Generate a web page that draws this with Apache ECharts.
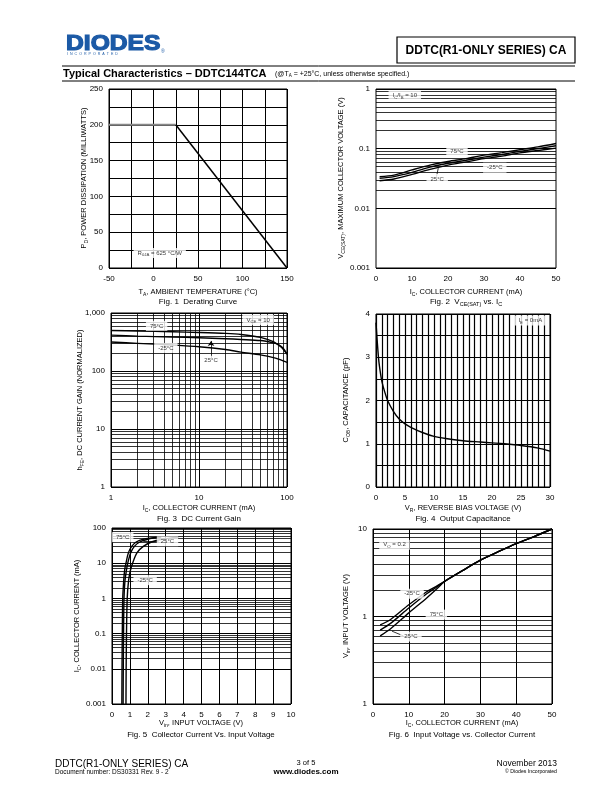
<!DOCTYPE html>
<html><head><meta charset="utf-8">
<script src="https://cdn.jsdelivr.net/npm/echarts@6/dist/echarts.min.js"></script>
<style>html,body{margin:0;padding:0;background:#fff}#c{width:612px;height:792px}</style>
</head><body><div id="c"></div>
<script>
// ---------- Fig.1 Derating curve ----------
const fig1Temp = [-50, 25, 150];
const fig1Pd = [200, 200, 0];
// ---------- Fig.2 VCE(sat) vs IC ----------
const fig2Ic = [1, 5, 10, 15, 20, 25, 30, 35, 40, 45, 50];
const fig2V75 = [0.034, 0.036, 0.044, 0.053, 0.061, 0.068, 0.078, 0.086, 0.096, 0.107, 0.122];
const fig2V25 = [0.032, 0.034, 0.040, 0.049, 0.057, 0.064, 0.072, 0.080, 0.090, 0.100, 0.112];
const fig2Vm25 = [0.029, 0.031, 0.037, 0.045, 0.053, 0.060, 0.068, 0.075, 0.085, 0.093, 0.102];
// ---------- Fig.3 DC current gain ----------
const fig3Ic = [1, 2, 5, 10, 20, 30, 50, 70, 80, 90, 100];
const fig3H75 = [500, 490, 475, 462, 445, 427, 380, 320, 280, 240, 195];
const fig3H25 = [416, 400, 385, 375, 360, 350, 335, 305, 285, 250, 195];
const fig3Hm25 = [316, 300, 280, 262, 235, 212, 190, 170, 160, 150, 141];
// ---------- Fig.4 Output capacitance ----------
const fig4Vr = [0, 0.25, 0.5, 0.75, 1, 1.5, 2, 3, 4, 5, 6, 8, 10, 12, 15, 18, 20, 22, 25, 28, 30];
const fig4C = [3.8, 3.3, 2.9, 2.65, 2.45, 2.2, 2.0, 1.75, 1.57, 1.46, 1.38, 1.26, 1.17, 1.12, 1.07, 1.04, 1.02, 1.0, 0.96, 0.9, 0.83];
// ---------- Fig.5 IC vs Vin ----------
const fig5Ic = [0.001, 0.01, 0.1, 1, 3, 6, 10, 20, 30, 40, 48, 55];
const fig5Vin75 = [0.55, 0.56, 0.575, 0.6, 0.65, 0.7, 0.78, 0.92, 1.1, 1.35, 1.75, 2.6];
const fig5Vin25 = [0.62, 0.63, 0.645, 0.67, 0.72, 0.8, 0.88, 1.05, 1.25, 1.55, 2.0, 2.75];
const fig5Vinm25 = [0.78, 0.79, 0.81, 0.85, 0.92, 1.02, 1.15, 1.4, 1.75, 2.2, 2.8, 3.7];
// ---------- Fig.6 Vin vs IC ----------
const fig6Ic = [2, 5, 10, 15, 18, 20, 25, 30, 35, 40, 45, 50];
const fig6Vm25 = [0.80, 0.93, 1.36, 1.92, 2.25, 2.52, 3.35, 4.4, 5.5, 6.8, 8.2, 10];
const fig6V75 = [0.70, 0.84, 1.25, 1.82, 2.2, 2.52, 3.35, 4.4, 5.5, 6.8, 8.2, 10];
const fig6V25 = [0.60, 0.73, 1.10, 1.63, 2.1, 2.52, 3.35, 4.4, 5.5, 6.8, 8.2, 10];

const F = 'Liberation Sans, Arial, Helvetica, sans-serif';
const zip = (xs, ys) => xs.map((x, i) => [x, ys[i]]);
const zipYX = (ys, xs) => ys.map((y, i) => [xs[i], y]);
function logMinors(e0, e1) { const out = []; for (let e = e0; e < e1; e++) for (let d = 2; d <= 9; d++) out.push(+(d * Math.pow(10, e)).toPrecision(3)); return out; }
const fmtNum = v => { const r = parseFloat((+v).toPrecision(3)); return r >= 1000 ? r.toLocaleString('en-US') : String(r); };

function mkRich(big, small, lh) {
  return {
    n: { fontSize: big, fontFamily: F, color: '#000', lineHeight: lh, verticalAlign: 'middle' },
    s: { fontSize: small, fontFamily: F, color: '#000', lineHeight: small, verticalAlign: 'bottom' }
  };
}
const RICH = mkRich(6, 4.3, 8);
const TRICH = mkRich(7.5, 5, 10);
const CRICH = mkRich(8, 5.5, 11);

const grids = [
  { left: 109, top: 89, width: 178, height: 179 },
  { left: 376, top: 89, width: 180, height: 179 },
  { left: 111, top: 313, width: 176, height: 174 },
  { left: 376, top: 314, width: 174, height: 173 },
  { left: 112, top: 528, width: 179, height: 176 },
  { left: 373, top: 529, width: 179, height: 175 }
].map(g => Object.assign({ show: true, borderColor: '#000', borderWidth: 1, backgroundColor: '#fff' }, g));

const GL = { lineStyle: { color: '#000', width: 1 } };
const LBL = (o) => Object.assign({ color: '#000', fontSize: 8, fontFamily: F, margin: 7 }, o || {});
function ax(gi, o) {
  return Object.assign({
    gridIndex: gi,
    axisLine: { show: false }, axisTick: { show: false },
    splitLine: Object.assign({ show: true }, GL),
    axisLabel: LBL()
  }, o);
}
const xAxes = [
  ax(0, { type: 'value', min: -50, max: 150, interval: 25, axisLabel: LBL({ formatter: v => (v % 50 === 0 ? String(v) : '') }) }),
  ax(1, { type: 'value', min: 0, max: 50, interval: 10, splitLine: { show: false } }),
  ax(2, { type: 'log', min: 1, max: 100, logBase: 10, axisLabel: LBL({ formatter: fmtNum }) }),
  ax(3, { type: 'value', min: 0, max: 30, interval: 1, splitLine: { show: true, lineStyle: { color: '#000', width: 1.2 } }, axisLabel: LBL({ formatter: v => (v % 5 === 0 ? String(v) : '') }) }),
  ax(4, { type: 'value', min: 0, max: 10, interval: 1 }),
  ax(5, { type: 'value', min: 0, max: 50, interval: 10 })
];
const yAxes = [
  ax(0, { type: 'value', min: 0, max: 250, interval: 25, axisLabel: LBL({ margin: 6, formatter: v => (v % 50 === 0 ? String(v) : '') }) }),
  ax(1, { type: 'log', min: 0.001, max: 1, logBase: 10, axisLabel: LBL({ margin: 6, formatter: fmtNum }) }),
  ax(2, { type: 'log', min: 1, max: 1000, logBase: 10, axisLabel: LBL({ margin: 6, formatter: fmtNum }) }),
  ax(3, { type: 'value', min: 0, max: 4, interval: 0.5, splitLine: { show: true, lineStyle: { color: '#000', width: 1.2 } }, axisLabel: LBL({ margin: 6, formatter: v => (Number.isInteger(v) ? String(v) : '') }) }),
  ax(4, { type: 'log', min: 0.001, max: 100, logBase: 10, axisLabel: LBL({ margin: 6, formatter: fmtNum }) }),
  ax(5, { type: 'log', min: 0.1, max: 10, logBase: 10, axisLabel: LBL({ margin: 6, formatter: v => (Math.abs(v - 0.1) < 1e-9 ? '1' : fmtNum(v)) }) })
];

const minorML = (list, key) => ({
  silent: true, symbol: 'none', label: { show: false }, animation: false,
  lineStyle: { color: '#000', width: 0.8, type: 'solid' },
  data: list.map(v => ({ [key]: v }))
});
const curve = (gi, data, extra) => Object.assign({
  type: 'line', xAxisIndex: gi, yAxisIndex: gi, data, showSymbol: false, symbol: 'none',
  smooth: 0.3, lineStyle: { color: '#000', width: 1.4 }, z: 3
}, extra || {});
function labels(gi, items, leaders) {
  return {
    type: 'scatter', xAxisIndex: gi, yAxisIndex: gi, symbolSize: 1, z: 10,
    itemStyle: { color: 'rgba(0,0,0,0)' },
    data: items,
    label: { show: true, position: 'inside', formatter: p => p.data[2], backgroundColor: '#fff', padding: [1, 4], rich: RICH, fontSize: 6, fontFamily: F, color: '#000' },
    markLine: leaders ? {
      silent: true, symbol: ['none', 'none'], label: { show: false },
      lineStyle: { color: '#000', width: 0.8, type: 'solid' },
      data: leaders.map(l => [{ coord: l[0], symbol: 'none' }, { coord: l[1], symbol: l[2] || 'none', symbolSize: 5 }])
    } : undefined
  };
}

const series = [
  curve(0, zip(fig1Temp.slice(0, 2), fig1Pd.slice(0, 2)), { smooth: false, lineStyle: { color: '#888', width: 2 } }),
  curve(0, zip(fig1Temp.slice(1), fig1Pd.slice(1)), { smooth: false, lineStyle: { color: '#000', width: 1.5 } }),
  curve(1, zip(fig2Ic, fig2V75), { markLine: minorML(logMinors(-3, 0), 'yAxis') }),
  curve(1, zip(fig2Ic, fig2V25)),
  curve(1, zip(fig2Ic, fig2Vm25)),
  curve(2, zip(fig3Ic, fig3H75), { markLine: minorML(logMinors(0, 3), 'yAxis') }),
  curve(2, zip(fig3Ic, fig3H25), { markLine: minorML(logMinors(0, 2), 'xAxis') }),
  curve(2, zip(fig3Ic, fig3Hm25)),
  curve(3, zip(fig4Vr, fig4C)),
  curve(4, zipYX(fig5Ic, fig5Vin75), { markLine: minorML(logMinors(-3, 2), 'yAxis') }),
  curve(4, zipYX(fig5Ic, fig5Vin25)),
  curve(4, zipYX(fig5Ic, fig5Vinm25)),
  curve(5, zip(fig6Ic, fig6Vm25), { markLine: minorML(logMinors(-1, 1), 'yAxis') }),
  curve(5, zip(fig6Ic, fig6V75)),
  curve(5, zip(fig6Ic, fig6V25)),
  labels(0, [[7, 21, '{n|R}{s|θJA}{n| = 625 °C/W}']]),
  labels(1, [[8, 0.78, '{n|I}{s|C}{n|/I}{s|B}{n| = 10}'], [22.5, 0.09, '{n|75°C}'], [33, 0.048, '{n|-25°C}'], [17, 0.031, '{n|25°C}']],
    [[[17.3, 0.047], [16.8, 0.034]]]),
  labels(2, [[3.3, 600, '{n|75°C}'], [4.2, 250, '{n|-25°C}'], [13.7, 150, '{n|25°C}'], [47, 760, '{n|V}{s|CE}{n| = 10}']],
    [[[13.7, 168], [13.7, 330], 'arrow']]),
  labels(3, [[26.6, 3.85, '{n|I}{s|E}{n| = 0mA}']]),
  labels(4, [[0.6, 55, '{n|75°C}'], [3.1, 42, '{n|25°C}'], [1.85, 3.3, '{n|-25°C}']],
    [[[1.75, 43], [2.6, 43]]]),
  labels(5, [[6, 6.6, '{n|V}{s|O}{n| = 0.2}'], [10.9, 1.82, '{n|-25°C}'], [17.7, 1.05, '{n|75°C}'], [10.6, 0.59, '{n|25°C}']],
    [[[5.3, 0.68], [8.5, 0.6]]])
];

function T(x, y, text, o) {
  return { type: 'text', x, y, z: 100, style: Object.assign({ text, fontFamily: F, fill: '#000', fontSize: 8, align: 'left', verticalAlign: 'middle' }, o || {}) };
}
function RT(x, y, text, rich, rot) {
  return { type: 'text', x, y, rotation: rot || 0, z: 100, style: { text, rich, fontFamily: F, fill: '#000', align: 'center', verticalAlign: 'middle' } };
}
const graphic = [
  // header
  { type: 'text', x: 66, y: 33, scaleX: 1.12, z: 100, style: { text: 'DIODES', fontFamily: F, fontWeight: 900, fontSize: 22, fill: '#1c5aa6', stroke: '#1c5aa6', lineWidth: 1.2, align: 'left', verticalAlign: 'top' } },
  T(67, 54, 'I  N  C  O  R  P  O  R  A  T  E  D', { fontSize: 3.6, fill: '#1c5aa6' }),
  T(161, 52, '®', { fontSize: 5, fill: '#1c5aa6' }),
  { type: 'rect', z: 100, shape: { x: 397, y: 37, width: 178, height: 26 }, style: { fill: 'none', stroke: '#000', lineWidth: 1.2 } },
  T(486, 50.5, 'DDTC(R1-ONLY SERIES) CA', { fontSize: 12, fontWeight: 'bold', align: 'center' }),
  { type: 'line', z: 100, shape: { x1: 62, y1: 66, x2: 575, y2: 66 }, style: { stroke: '#000', lineWidth: 1 } },
  T(63, 73.5, 'Typical Characteristics – DDTC144TCA', { fontSize: 11, fontWeight: 'bold' }),
  { type: 'text', x: 275, y: 74, z: 100, style: { text: '{n|(@T}{s|A}{n| = +25°C, unless otherwise specified.)}', fontFamily: F, fill: '#000', align: 'left', verticalAlign: 'middle',
      rich: mkRich(7, 4.5, 9) } },
  { type: 'line', z: 100, shape: { x1: 62, y1: 81, x2: 575, y2: 81 }, style: { stroke: '#000', lineWidth: 1 } },
  // footer
  T(55, 764, 'DDTC(R1-ONLY SERIES) CA', { fontSize: 10 }),
  T(55, 772, 'Document number: DS30331 Rev. 9 - 2', { fontSize: 6.5 }),
  T(306, 763, '3 of 5', { fontSize: 7.5, align: 'center' }),
  T(306, 771.5, 'www.diodes.com', { fontSize: 8, fontWeight: 'bold', align: 'center' }),
  T(557, 764, 'November 2013', { fontSize: 8.5, align: 'right' }),
  T(557, 771.5, '© Diodes Incorporated', { fontSize: 5.2, align: 'right' }),
  // axis titles
  RT(198, 292, '{n|T}{s|A}{n|, AMBIENT TEMPERATURE (°C)}', TRICH),
  RT(84, 178, '{n|P}{s|D}{n|, POWER DISSIPATION (MILLIWATTS)}', TRICH, Math.PI / 2),
  RT(466, 292, '{n|I}{s|C}{n|, COLLECTOR CURRENT (mA)}', TRICH),
  RT(341, 178, '{n|V}{s|CE(SAT)}{n|, MAXIMUM COLLECTOR VOLTAGE (V)}', TRICH, Math.PI / 2),
  RT(199, 508, '{n|I}{s|C}{n|, COLLECTOR CURRENT (mA)}', TRICH),
  RT(80, 400, '{n|h}{s|FE}{n|, DC CURRENT GAIN (NORMALIZED)}', TRICH, Math.PI / 2),
  RT(463, 508, '{n|V}{s|R}{n|, REVERSE BIAS VOLTAGE (V)}', TRICH),
  RT(346, 400, '{n|C}{s|OB}{n|, CAPACITANCE (pF)}', TRICH, Math.PI / 2),
  RT(201, 723, '{n|V}{s|in}{n|, INPUT VOLTAGE (V)}', TRICH),
  RT(77, 616, '{n|I}{s|C}{n|, COLLECTOR CURRENT (mA)}', TRICH, Math.PI / 2),
  RT(462, 723, '{n|I}{s|C}{n|, COLLECTOR CURRENT (mA)}', TRICH),
  RT(346, 616, '{n|V}{s|in}{n|, INPUT VOLTAGE (V)}', TRICH, Math.PI / 2),
  // captions
  RT(198, 302, '{n|Fig. 1  Derating Curve}', CRICH),
  RT(466, 302, '{n|Fig. 2  V}{s|CE(SAT)}{n| vs. I}{s|C}', CRICH),
  RT(199, 519, '{n|Fig. 3  DC Current Gain}', CRICH),
  RT(463, 519, '{n|Fig. 4  Output Capacitance}', CRICH),
  RT(201, 735, '{n|Fig. 5  Collector Current Vs. Input Voltage}', CRICH),
  RT(462, 735, '{n|Fig. 6  Input Voltage vs. Collector Current}', CRICH)
];

const chart = echarts.init(document.getElementById('c'), null, { renderer: 'canvas' });
chart.setOption({
  animation: false,
  backgroundColor: '#fff',
  textStyle: { fontFamily: F },
  grid: grids, xAxis: xAxes, yAxis: yAxes, series, graphic
});
</script></body></html>
